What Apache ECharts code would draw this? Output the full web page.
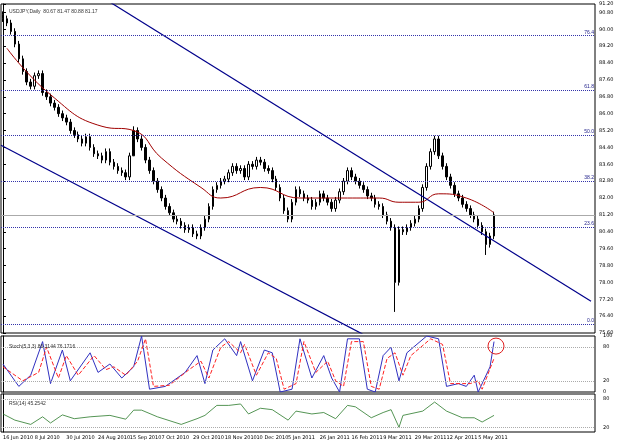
<!DOCTYPE html>
<html>
<head>
<meta charset="UTF-8">
<script src="https://cdn.jsdelivr.net/npm/echarts@6/dist/echarts.min.js"></script>
<style>
    html, body { margin: 0; padding: 0; background: #fff; }
    #chart { width: 640px; height: 445px; }
</style>
</head>
<body>
<div id="chart"></div>
<script>
    // closes, one bar per ~2 trading days
    var closes = [90.5, 90.3, 89.9, 89.3, 88.6, 88.0, 87.5, 87.3, 87.8, 87.9,
        87.0, 86.8, 86.5, 86.3, 86.0, 85.8, 85.6, 85.2, 85.0, 84.8,
        84.6, 84.9, 84.4, 84.1, 84.0, 83.8, 84.2, 83.7, 83.5, 83.3,
        83.2, 83.0, 84.0, 85.2, 84.8, 84.4, 83.8, 83.3, 82.8, 82.4,
        82.0, 81.6, 81.3, 81.0, 80.9, 80.7, 80.5, 80.6, 80.3, 80.2,
        80.6, 81.0, 81.6, 82.4, 82.6, 82.8, 82.9, 83.2, 83.5, 83.3,
        83.4, 83.0, 83.6, 83.5, 83.8, 83.7, 83.4, 83.3, 82.9, 82.5,
        82.0, 81.4, 81.0, 81.8, 82.4, 82.2, 82.0, 81.9, 81.6, 81.8,
        82.2, 82.0, 81.8, 81.5, 81.9, 82.3, 82.8, 83.3, 83.0, 82.8,
        82.6, 82.4, 82.1, 82.0, 81.7, 81.6, 81.2, 80.9, 80.6, 78.0,
        80.5, 80.4, 80.6, 80.8, 81.0, 81.5, 82.5, 83.5, 84.2, 84.8,
        84.0, 83.5, 83.0, 82.6, 82.2, 82.0, 81.7, 81.5, 81.2, 81.0,
        80.7, 80.4, 79.8, 80.2, 81.2];
    var spikeLows = { 99: 76.6, 122: 79.3, 33: 85.4 };
    var firstOpen = 90.7;
    var maPts = [[1, 89.1], [12, 86.9], [25, 85.4], [33, 85.2], [40, 83.9], [50, 82.5], [55, 82.0],
        [65, 82.5], [75, 82.0], [87, 82.0], [95, 82.0], [100, 81.8], [105, 81.8], [110, 82.2],
        [117, 82.0], [124, 81.3]];
    var channelUpper = [[23.5, 91.7], [148.5, 77.1]];
    var channelLower = [[-0.5, 84.5], [90.8, 75.55]];
    var fibLevels = [['76.4', 89.7], ['61.8', 87.1], ['50.0', 85.0], ['38.2', 82.8], ['23.6', 80.6], ['0.0', 76.0]];
    var stochK = [[0, 50], [4, 10], [7, 30], [10, 90], [12, 15], [15, 75], [17, 20], [22, 70], [24, 35], [27, 50],
        [30, 25], [33, 45], [35, 100], [37, 5], [41, 10], [46, 35], [49, 65], [51, 15], [53, 75], [56, 95],
        [59, 65], [60, 90], [63, 20], [66, 75], [68, 70], [70, 0], [73, 5], [75, 95], [78, 25], [81, 65],
        [83, 25], [85, 0], [87, 95], [90, 95], [92, 5], [94, 0], [96, 65], [98, 80], [100, 20], [102, 70],
        [107, 100], [110, 95], [112, 10], [115, 15], [117, 10], [119, 30], [120, 0], [123, 45], [124, 90]];
    var stochD = [[0, 45], [5, 20], [9, 35], [11, 80], [14, 25], [16, 65], [19, 30], [23, 65], [26, 40], [28, 45],
        [31, 30], [34, 55], [36, 95], [38, 10], [42, 12], [47, 40], [50, 55], [52, 25], [55, 80], [57, 90],
        [60, 70], [61, 85], [64, 30], [67, 70], [69, 60], [71, 5], [74, 15], [76, 90], [79, 35], [82, 55],
        [84, 20], [86, 10], [88, 90], [91, 90], [93, 10], [95, 5], [97, 60], [99, 70], [101, 30], [103, 65],
        [108, 95], [111, 85], [113, 15], [116, 15], [118, 15], [120, 20], [121, 5], [124, 60]];
    var rsi = [[0, 48], [3, 35], [7, 26], [10, 42], [12, 29], [15, 46], [18, 38], [22, 42], [27, 45], [31, 37],
        [33, 56], [35, 56], [39, 42], [45, 26], [49, 38], [51, 45], [54, 66], [57, 66], [60, 69], [62, 48],
        [65, 60], [68, 57], [72, 35], [74, 54], [78, 48], [81, 51], [84, 38], [87, 66], [89, 63], [93, 40],
        [96, 51], [98, 57], [100, 20], [101, 45], [106, 54], [109, 73], [112, 54], [116, 40], [119, 40],
        [121, 31], [124, 45]];
    var dateLabels = ['16 Jun 2010', '8 Jul 2010', '30 Jul 2010', '24 Aug 2010', '15 Sep 2010', '7 Oct 2010',
        '29 Oct 2010', '18 Nov 2010', '10 Dec 2010', '5 Jan 2011', '26 Jan 2011', '16 Feb 2011',
        '9 Mar 2011', '29 Mar 2011', '12 Apr 2011', '5 May 2011'];
    var NCAT = 150;

    var cats = [];
    for (var i = 0; i < NCAT; i++) cats.push(i % 8 === 0 && dateLabels[i / 8] ? dateLabels[i / 8] : '');
    var candles = closes.map(function (c, i) {
        var o = i === 0 ? firstOpen : closes[i - 1];
        var lo = spikeLows[i] !== undefined ? spikeLows[i] : Math.min(o, c) - 0.15;
        return [o, c, lo, Math.max(o, c) + 0.15];
    });

    var fibLines = fibLevels.map(function (f) {
        return { yAxis: f[1], label: { show: true, position: 'insideEndTop', formatter: f[0], color: '#22228b', fontSize: 5, distance: 1 } };
    });
    fibLines.push({ yAxis: 81.17, lineStyle: { color: '#aaa', type: 'solid' }, label: { show: false } });

    var ft = { fontSize: 5, color: '#000', fontFamily: 'DejaVu Sans' };
    var lvl = function (v) { return [0, 20, 80, 100].indexOf(v) >= 0 ? v : ''; };
    var chart = echarts.init(document.getElementById('chart'));
    chart.setOption({
        animation: false,
        backgroundColor: '#fff',
        title: [
            { text: 'USDJPY,Daily  80.67 81.47 80.88 81.17', left: 4, top: 4, textStyle: { fontSize: 5, fontWeight: 'normal', color: '#333' } },
            { text: 'Stoch(5,3,3) 86.3144 76.1716', left: 4, top: 339, textStyle: { fontSize: 5, fontWeight: 'normal', color: '#333' } },
            { text: 'RSI(14) 45.2542', left: 4, top: 396, textStyle: { fontSize: 5, fontWeight: 'normal', color: '#333' } }
        ],
        grid: [
            { left: 1, right: 45, top: 4, height: 329, show: true, borderColor: '#000', borderWidth: 1 },
            { left: 1, right: 45, top: 336, height: 56, show: true, borderColor: '#000', borderWidth: 1 },
            { left: 1, right: 45, top: 394, height: 38, show: true, borderColor: '#000', borderWidth: 1 }
        ],
        xAxis: [
            { type: 'category', gridIndex: 0, data: cats, axisLabel: { show: false }, axisTick: { show: false }, axisLine: { show: false } },
            { type: 'value', gridIndex: 1, min: -0.5, max: NCAT - 0.5, show: false },
            { type: 'value', gridIndex: 2, min: -0.5, max: NCAT - 0.5, show: false },
            {
                type: 'category', gridIndex: 2, data: cats, position: 'bottom', axisLine: { show: false },
                axisTick: { show: false }, axisLabel: Object.assign({ interval: 0, margin: 3, align: 'left' }, ft)
            },
            { type: 'value', gridIndex: 0, min: -0.5, max: NCAT - 0.5, show: false }
        ],
        yAxis: [
            {
                type: 'value', gridIndex: 0, position: 'right', min: 75.6, max: 91.2, interval: 0.8,
                splitLine: { show: false }, axisLine: { show: true, lineStyle: { color: '#000' } },
                axisTick: { show: true, length: 3 }, axisLabel: Object.assign({ margin: 4, formatter: function (v) { return v.toFixed(2); } }, ft)
            },
            {
                type: 'value', gridIndex: 1, position: 'right', min: 0, max: 100, interval: 10,
                splitLine: { show: false }, axisLine: { show: true, lineStyle: { color: '#000' } },
                axisTick: { show: false }, axisLabel: Object.assign({ formatter: lvl }, ft)
            },
            {
                type: 'value', gridIndex: 2, position: 'right', min: 10, max: 90, interval: 10,
                splitLine: { show: false }, axisLine: { show: true, lineStyle: { color: '#000' } },
                axisTick: { show: false }, axisLabel: Object.assign({ formatter: lvl }, ft)
            }
        ],
        series: [
            {
                type: 'candlestick', xAxisIndex: 0, yAxisIndex: 0, data: candles, barWidth: 2,
                itemStyle: { color: '#fff', color0: '#000', borderColor: '#000', borderColor0: '#000', borderWidth: 1 },
                markLine: { symbol: 'none', silent: true, lineStyle: { color: '#3333aa', type: 'dotted', width: 1 }, data: fibLines }
            },
            {
                type: 'line', xAxisIndex: 4, yAxisIndex: 0, data: maPts, smooth: true, symbol: 'none',
                lineStyle: { color: '#a00000', width: 1 }
            },
            { type: 'line', xAxisIndex: 4, yAxisIndex: 0, data: channelUpper, symbol: 'none', lineStyle: { color: '#00008b', width: 1.2 } },
            { type: 'line', xAxisIndex: 4, yAxisIndex: 0, data: channelLower, symbol: 'none', lineStyle: { color: '#00008b', width: 1.2 } },
            {
                type: 'line', xAxisIndex: 1, yAxisIndex: 1, data: stochK, symbol: 'none', lineStyle: { color: '#3030c0', width: 1 },
                markLine: {
                    symbol: 'none', silent: true, label: { show: false }, lineStyle: { color: '#aaa', type: 'dotted', width: 1 },
                    data: [{ yAxis: 20 }, { yAxis: 80 }]
                },
                markPoint: {
                    symbol: 'circle', symbolSize: 16, itemStyle: { color: 'transparent', borderColor: '#e02020', borderWidth: 1 },
                    label: { show: false }, data: [{ coord: [124.5, 82] }]
                }
            },
            { type: 'line', xAxisIndex: 1, yAxisIndex: 1, data: stochD, symbol: 'none', lineStyle: { color: '#ff2020', width: 1, type: 'dashed' } },
            {
                type: 'line', xAxisIndex: 2, yAxisIndex: 2, data: rsi, symbol: 'none', lineStyle: { color: '#2a7a2a', width: 0.8 },
                markLine: {
                    symbol: 'none', silent: true, label: { show: false }, lineStyle: { color: '#aaa', type: 'dotted', width: 1 },
                    data: [{ yAxis: 20 }, { yAxis: 80 }]
                }
            }
        ]
    });
</script>
</body>
</html>
